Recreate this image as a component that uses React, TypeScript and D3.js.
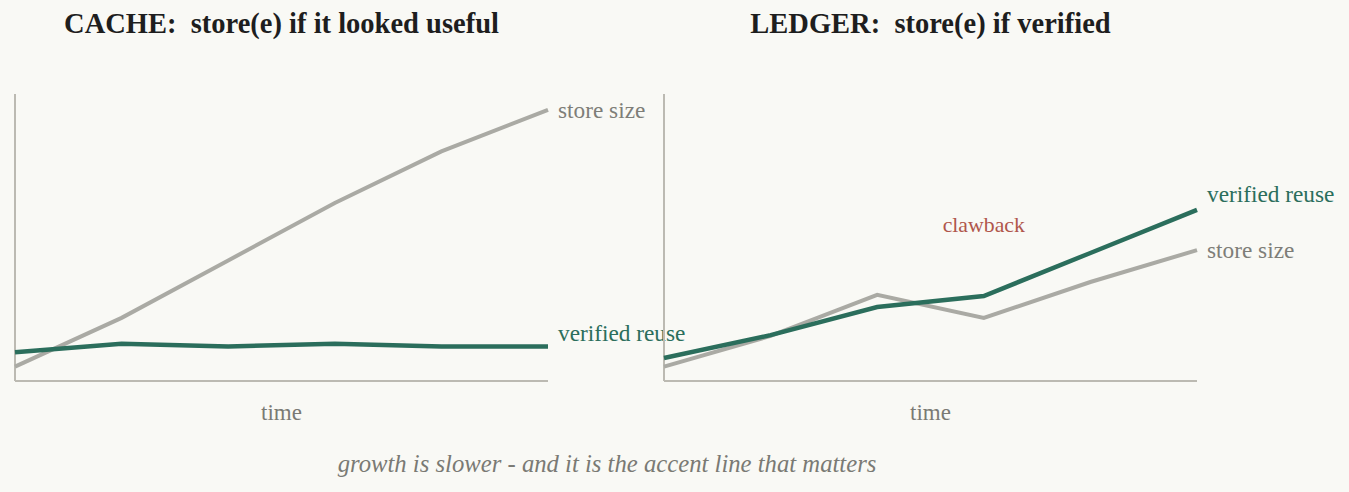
import React, { useEffect, useRef } from 'react';
import * as d3 from 'd3';

// time steps shared by both panels
const steps = [0, 1, 2, 3, 4, 5];

// CACHE panel
const cacheStore = [5, 22, 42, 62, 80, 94.5];
const cacheReuse = [10, 13, 12, 13, 12, 12];

// LEDGER panel
const ledgerStore = [5, 15.7, 30, 22, 34.5, 45.6];
const ledgerReuse = [8, 16, 25.8, 29.6, 44.6, 59.6];

const panels = [
    { title: 'CACHE:  store(e) if it looked useful', store: cacheStore, reuse: cacheReuse, left: 15, clawback: false },
    { title: 'LEDGER:  store(e) if verified', store: ledgerStore, reuse: ledgerReuse, left: 664, clawback: true },
];

const BG = '#f9f9f5';
const GREY = '#aaaaa4';
const GREEN = '#2b6e5c';
const FONT = '"Liberation Serif", "Times New Roman", serif';

const App = () => {
    const ref = useRef<SVGSVGElement>(null);

    useEffect(() => {
        document.body.style.margin = '0';
        drawChart();
    }, []);

    const drawChart = () => {
        const width = 1349, height = 492;
        const plotW = 533, top = 94, bottom = 381;

        const svg = d3.select(ref.current)
            .attr('width', width)
            .attr('height', height);
        svg.selectAll('*').remove();

        svg.append('rect')
            .attr('width', width)
            .attr('height', height)
            .style('fill', BG);

        const y = d3.scaleLinear().domain([0, 100]).range([bottom, top]);

        panels.forEach(p => {
            const x = d3.scaleLinear().domain([0, 5]).range([p.left, p.left + plotW]);
            const g = svg.append('g');

            g.append('text')
                .attr('x', p.left + plotW / 2)
                .attr('y', 33)
                .attr('text-anchor', 'middle')
                .style('font-family', FONT)
                .style('font-weight', 'bold')
                .style('font-size', '28.5px')
                .style('white-space', 'pre')
                .style('fill', '#1e1e1e')
                .text(p.title);

            // axes
            g.append('line')
                .attr('x1', p.left).attr('x2', p.left)
                .attr('y1', top).attr('y2', bottom)
                .style('stroke', '#bcbab2').style('stroke-width', 2);
            g.append('line')
                .attr('x1', p.left).attr('x2', p.left + plotW)
                .attr('y1', bottom).attr('y2', bottom)
                .style('stroke', '#bcbab2').style('stroke-width', 2);

            g.append('text')
                .attr('x', p.left + plotW / 2)
                .attr('y', 420)
                .attr('text-anchor', 'middle')
                .style('font-family', FONT)
                .style('font-size', '23px')
                .style('fill', '#7a7a74')
                .text('time');

            const line = d3.line<number>()
                .x((d, i) => x(steps[i]))
                .y(d => y(d));

            g.append('path')
                .attr('d', line(p.store))
                .style('fill', 'none')
                .style('stroke', GREY)
                .style('stroke-width', 4);

            g.append('path')
                .attr('d', line(p.reuse))
                .style('fill', 'none')
                .style('stroke', GREEN)
                .style('stroke-width', 4.5);

            const last = steps.length - 1;
            g.append('text')
                .attr('x', x(steps[last]) + 10)
                .attr('y', y(p.store[last]) + 8)
                .style('font-family', FONT)
                .style('font-size', '23.3px')
                .style('fill', '#7e7e78')
                .text('store size');

            g.append('text')
                .attr('x', x(steps[last]) + 10)
                .attr('y', y(p.reuse[last]) + (p.clawback ? -8 : -6))
                .style('font-family', FONT)
                .style('font-size', '23.3px')
                .style('fill', GREEN)
                .text('verified reuse');

            if (p.clawback) {
                g.append('text')
                    .attr('x', x(3))
                    .attr('y', 232)
                    .attr('text-anchor', 'middle')
                    .style('font-family', FONT)
                    .style('font-size', '21.8px')
                    .style('fill', '#b0564b')
                    .text('clawback');
            }
        });

        svg.append('text')
            .attr('x', 607)
            .attr('y', 472)
            .attr('text-anchor', 'middle')
            .style('font-family', FONT)
            .style('font-style', 'italic')
            .style('font-size', '24.7px')
            .style('fill', '#7a7a74')
            .text('growth is slower - and it is the accent line that matters');
    };

    return <svg ref={ref} style={{ display: 'block' }}></svg>;
};

export default App;
